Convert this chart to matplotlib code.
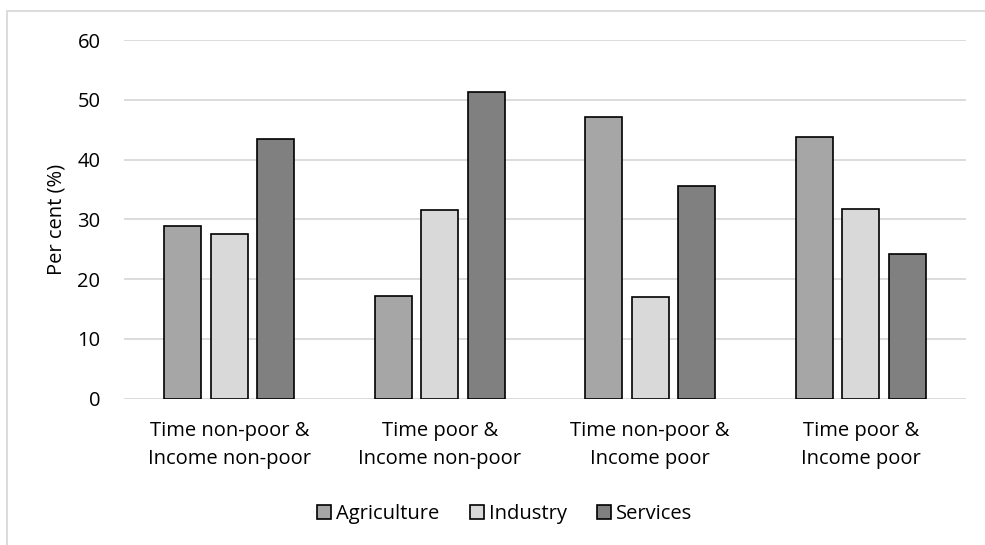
import numpy as np
import matplotlib.pyplot as plt
from matplotlib.patches import Rectangle

# poverty status groups and sector shares (%)
groups = ['Time non-poor &\nIncome non-poor', 'Time poor &\nIncome non-poor',
          'Time non-poor &\nIncome poor', 'Time poor &\nIncome poor']
sectors = ['Agriculture', 'Industry', 'Services']
agriculture = [28.9, 17.1, 47.2, 43.8]
industry = [27.5, 31.5, 17.0, 31.7]
services = [43.5, 51.3, 35.6, 24.2]

colors = ['#a6a6a6', '#d9d9d9', '#808080']

plt.rcParams['font.family'] = ['Open Sans', 'DejaVu Sans']
fs = 14.5

fig = plt.figure(figsize=(9.85, 5.45), dpi=100)
ax = fig.add_axes([124/985, 146.3/545, 842/985, 358.7/545])

x = np.arange(len(groups))
width = 0.176
step = 0.221
for i, (name, vals) in enumerate(zip(sectors, [agriculture, industry, services])):
    ax.bar(x + (i - 1) * step, vals, width, color=colors[i], edgecolor='black',
           linewidth=1.2, label=name, zorder=3)

ax.set_xlim(-0.5, 3.5)
ax.set_ylim(0, 60)
ax.set_yticks(range(0, 61, 10))
ax.set_xticks(x)
ax.set_xticklabels(groups, fontsize=fs, linespacing=1.55)
ax.tick_params(axis='both', length=0, labelsize=fs, colors='#000000')
ax.tick_params(axis='y', pad=17)
ax.tick_params(axis='x', pad=16)
ax.grid(axis='y', color='#d9d9d9', linewidth=1.3, zorder=0)
for s in ax.spines.values():
    s.set_visible(False)
ax.set_ylabel('Per cent (%)', fontsize=fs, labelpad=8)

leg = fig.legend(loc='center', bbox_to_anchor=(505/985, 1 - 514/545), ncol=3,
                 frameon=False, fontsize=fs, handlelength=0.7, handleheight=0.7,
                 handletextpad=0.25, columnspacing=1.5)

# outer chart frame
fig.patches.append(Rectangle((7/985, 0 - 0.05), 1.1, 1 - 11/545 + 0.05,
                             transform=fig.transFigure, fill=False,
                             edgecolor='#d9d9d9', linewidth=1.3))

fig.savefig('out.png', dpi=100)
